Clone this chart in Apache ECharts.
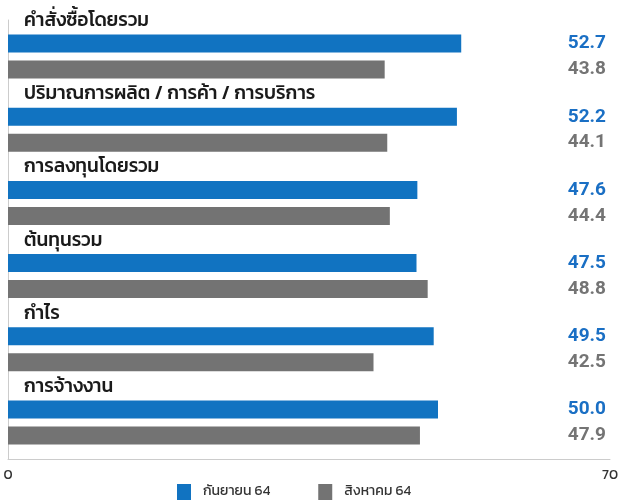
<!DOCTYPE html>
<html>
<head>
<meta charset="utf-8">
<script src="https://cdn.jsdelivr.net/npm/echarts@6/dist/echarts.min.js"></script>
<style>
  html, body { margin: 0; padding: 0; background: #fff; }
  #chart { width: 624px; height: 500px; }
</style>
</head>
<body>
<div id="chart"></div>
<script>
// หมวดดัชนี
const categories = ['คำสั่งซื้อโดยรวม', 'ปริมาณการผลิต / การค้า / การบริการ', 'การลงทุนโดยรวม', 'ต้นทุนรวม', 'กำไร', 'การจ้างงาน']
const seriesNames = ['กันยายน 64', 'สิงหาคม 64']
const sepValues = [52.7, 52.2, 47.6, 47.5, 49.5, 50.0]
const augValues = [43.8, 44.1, 44.4, 48.8, 42.5, 47.9]
const axisTicks = [0, 70]

const blue = '#1173c1'
const gray = '#737373'
const font = 'Kanit, Prompt, "Noto Sans Thai", "Noto Sans", sans-serif'

const chart = echarts.init(document.getElementById('chart'))

// ค่าตัวเลขชิดขวา ตรงกับแท่ง
const valueLayout = (params) => ({
  x: chart.getWidth() - 18,
  y: params.rect.y + params.rect.height / 2,
  align: 'right',
  verticalAlign: 'middle'
})

chart.setOption({
  animation: false,
  textStyle: { fontFamily: font },
  grid: { left: 8, right: 14, top: 20, bottom: 41, containLabel: false, outerBoundsMode: 'none' },
  legend: {
    top: 479,
    left: 172,
    itemWidth: 14,
    itemHeight: 16,
    itemGap: 48,
    icon: 'rect',
    textStyle: { fontSize: 14, color: '#333', fontFamily: font, padding: [0, 0, 0, 7] },
    data: seriesNames
  },
  xAxis: {
    type: 'value',
    min: axisTicks[0],
    max: axisTicks[1],
    interval: axisTicks[1] - axisTicks[0],
    splitLine: { show: false },
    axisLine: { show: true, lineStyle: { color: '#cccccc' } },
    axisTick: { show: false },
    axisLabel: { color: '#333', fontSize: 14, margin: 10 }
  },
  yAxis: {
    type: 'category',
    inverse: true,
    data: categories,
    axisLine: { show: true, lineStyle: { color: '#cccccc' } },
    axisTick: { show: false },
    axisLabel: {
      inside: true,
      interval: 0,
      showMinLabel: true,
      showMaxLabel: true,
      hideOverlap: false,
      margin: 16,
      color: '#1a1a1a',
      fontSize: 19,
      fontWeight: 500,
      verticalAlign: 'middle',
      lineHeight: 70,
      formatter: (v) => v + '\n '
    }
  },
  series: [
    {
      name: seriesNames[0],
      type: 'bar',
      data: sepValues,
      barWidth: 18,
      barGap: '44%',
      itemStyle: { color: blue },
      label: {
        show: true,
        color: '#1a6fc4',
        fontSize: 19,
        fontWeight: 'bold',
        fontFamily: 'Roboto, sans-serif',
        formatter: (p) => p.value.toFixed(1)
      },
      labelLayout: valueLayout
    },
    {
      name: seriesNames[1],
      type: 'bar',
      data: augValues,
      barWidth: 18,
      itemStyle: { color: gray },
      label: {
        show: true,
        color: '#747474',
        fontSize: 19,
        fontWeight: 'bold',
        fontFamily: 'Roboto, sans-serif',
        formatter: (p) => p.value.toFixed(1)
      },
      labelLayout: valueLayout
    }
  ]
})
</script>
</body>
</html>
